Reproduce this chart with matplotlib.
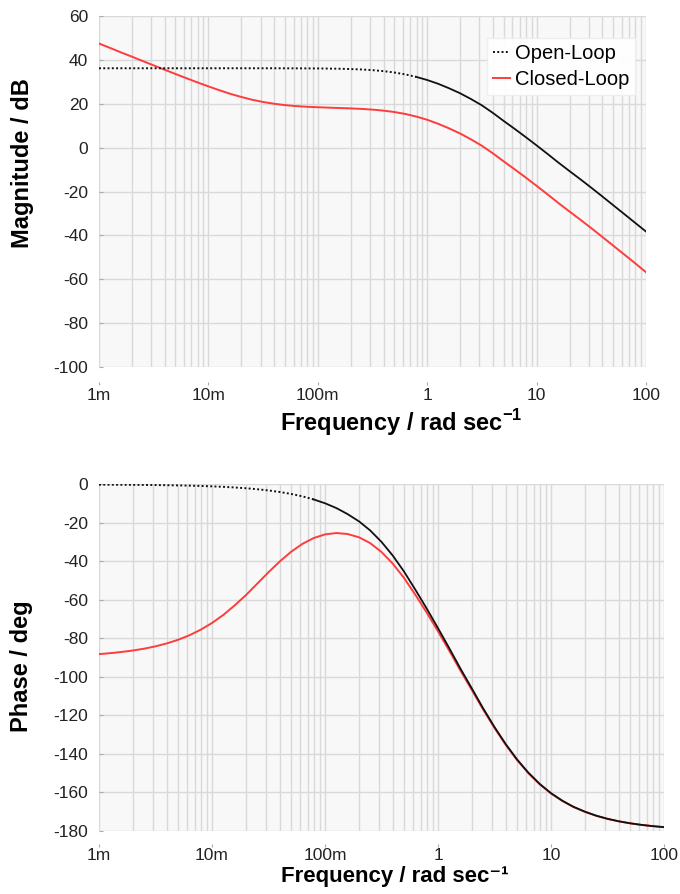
"""
Bode plot: open-loop vs closed-loop magnitude and phase.
"""
import matplotlib
matplotlib.use("Agg")
import matplotlib.pyplot as plt
from matplotlib.ticker import FixedLocator, FixedFormatter, LogLocator, NullFormatter

# ---------------------------------------------------------------------------
# Data (0.1-decade steps from 1m to 100 rad/s)
# ---------------------------------------------------------------------------
freq = [0.001, 0.00126, 0.00158, 0.002, 0.00251, 0.00316, 0.00398, 0.00501,
        0.00631, 0.00794,
        0.01, 0.0126, 0.0158, 0.02, 0.0251, 0.0316, 0.0398, 0.0501, 0.0631,
        0.0794,
        0.1, 0.126, 0.158, 0.2, 0.251, 0.316, 0.398, 0.501, 0.631, 0.794,
        1.0, 1.26, 1.58, 2.0, 2.51, 3.16, 3.98, 5.01, 6.31, 7.94,
        10, 12.6, 15.8, 20, 25.1, 31.6, 39.8, 50.1, 63.1, 79.4,
        100]

open_mag = [36.1, 36.1, 36.1, 36.1, 36.1, 36.1, 36.1, 36.1, 36.1, 36.1,
            36.1, 36.1, 36.1, 36.1, 36.1, 36.1, 36.1, 36.08, 36.06, 36.04,
            36.01, 35.95, 35.87, 35.74, 35.54, 35.24, 34.8, 34.17, 33.3, 32.17,
            30.75, 29.03, 27.02, 24.71, 22.11, 19.22, 15.8, 12.1, 8.5, 4.8,
            1.0, -2.9, -6.8, -10.7, -14.4, -18.25, -22.2, -26.2, -30.2, -34.2,
            -38.2]

closed_mag = [47.35, 45.36, 43.36, 41.37, 39.38, 37.4, 35.43, 33.48, 31.55, 29.66,
              27.84, 26.1, 24.48, 23.03, 21.78, 20.75, 19.95, 19.33, 18.89, 18.58,
              18.36, 18.17, 18.01, 17.83, 17.6, 17.28, 16.82, 16.18, 15.3, 14.12,
              12.65, 10.83, 8.77, 6.41, 3.76, 0.82, -2.6, -6.3, -9.9, -13.6,
              -17.4, -21.3, -25.2, -29.1, -32.8, -36.65, -40.6, -44.6, -48.6, -52.6,
              -56.7]

open_phase = [-0.1, -0.12, -0.15, -0.19, -0.25, -0.31, -0.39, -0.49, -0.62, -0.78,
              -0.98, -1.24, -1.56, -1.96, -2.47, -3.1, -3.91, -4.92, -6.18, -7.78,
              -9.77, -12.26, -15.36, -19.18, -23.88, -29.83, -36.97, -45.3, -54.73, -64.45,
              -74.66, -85.14, -95.68, -106.14, -116.32, -125.99, -134.91, -142.86, -149.74, -155.54,
              -160.36, -164.28, -167.45, -170.0, -172.04, -173.67, -174.97, -176.0, -176.82, -177.48,
              -178.0]

closed_phase = [-88.13, -87.63, -87.02, -86.25, -85.3, -84.09, -82.57, -80.69, -78.35, -75.46,
                -71.95, -67.77, -62.91, -57.43, -51.57, -45.62, -39.99, -34.97, -30.86, -27.84,
                -25.94, -25.23, -25.73, -27.45, -30.47, -35.07, -41.14, -48.61, -57.36, -66.54,
                -76.32, -86.46, -96.73, -106.97, -116.98, -126.52, -135.33, -143.19, -150.0, -155.75,
                -160.53, -164.41, -167.55, -170.08, -172.11, -173.72, -175.0, -176.03, -176.85, -177.5,
                -178.02]

xtick_vals   = [0.001, 0.01, 0.1, 1, 10, 100]
xtick_labels = ["1m", "10m", "100m", "1", "10", "100"]
mag_ticks    = [-100, -80, -60, -40, -20, 0, 20, 40, 60]
phase_ticks  = [-180, -160, -140, -120, -100, -80, -60, -40, -20, 0]

# open-loop trace renders as a dotted line where it is nearly flat
MAG_DOT_END   = 29
PHASE_DOT_END = 19

# ---------------------------------------------------------------------------
# Style
# ---------------------------------------------------------------------------
plt.rcParams["font.family"] = ["Liberation Sans", "DejaVu Sans"]
plt.rcParams["axes.unicode_minus"] = False
plt.rcParams["mathtext.fontset"] = "custom"
plt.rcParams["mathtext.rm"] = "Liberation Sans"
plt.rcParams["mathtext.bf"] = "Liberation Sans:bold"

RED   = "#ff3c3c"
BLACK = "#111111"
GRID  = "#d9d9d9"
FACE  = "#f8f8f8"
DOTS  = (0, (1.0, 1.2))
XLAB  = r"Frequency / rad sec$^{\mathbf{-1}}$"
XLAB_PLAIN = "Frequency / rad sec\u207b\u00b9"
LABEL_SIZE = 17


def style_axes(ax, yticks, xoffset, xpad):
    ax.set_xscale("log")
    ax.set_facecolor(FACE)
    ax.xaxis.set_major_locator(FixedLocator(xtick_vals))
    ax.xaxis.set_major_formatter(FixedFormatter(xtick_labels))
    ax.xaxis.set_minor_locator(LogLocator(base=10, subs=range(2, 10), numticks=20))
    ax.xaxis.set_minor_formatter(NullFormatter())
    ax.set_yticks(yticks)
    ax.grid(True, which="both", color=GRID, linewidth=1.0)
    ax.set_axisbelow(True)
    for side in ["top", "right", "left", "bottom"]:
        ax.spines[side].set_color("none")
    ax.spines["bottom"].set_position(("outward", xoffset))
    ax.tick_params(axis="x", which="major", direction="out", length=2.5,
                   color="#aaaaaa", labelsize=12.5, pad=xpad, labelcolor="#222222")
    ax.tick_params(axis="x", which="minor", length=0)
    ax.tick_params(axis="y", direction="in", length=3, color="#aaaaaa",
                   labelsize=12.5, pad=8, labelcolor="#222222")


fig = plt.figure(figsize=(6.8, 8.94), dpi=100)

# --- magnitude ---
ax1 = fig.add_axes([0.1456, 0.5891, 0.8044, 0.3933])
style_axes(ax1, mag_ticks, 10.8, 1.5)
ax1.plot(freq, closed_mag, color=RED, linewidth=1.4, zorder=3)
ax1.plot(freq[:MAG_DOT_END + 1], open_mag[:MAG_DOT_END + 1], color=BLACK,
         linewidth=1.4, linestyle=DOTS, zorder=4)
ax1.plot(freq[MAG_DOT_END:], open_mag[MAG_DOT_END:], color=BLACK,
         linewidth=1.3, zorder=4)
ax1.set_xlim(1e-3, 100)
ax1.set_ylim(-100, 60)
ax1.set_ylabel("Magnitude / dB", fontsize=LABEL_SIZE, fontweight="bold")
ax1.yaxis.set_label_coords(-0.118, 0.58)
ax1.set_xlabel(XLAB, fontsize=LABEL_SIZE, fontweight="bold")
ax1.xaxis.set_label_coords(0.552, -0.114)

open_handle = plt.Line2D([], [], color=BLACK, linewidth=1.4, linestyle=DOTS)
red_handle = plt.Line2D([], [], color=RED, linewidth=1.4)
ax1.legend([open_handle, red_handle], ["Open-Loop", "Closed-Loop"],
           loc="upper right", bbox_to_anchor=(0.98, 0.937),
           borderaxespad=0, fontsize=14.5, handlelength=0.8,
           handletextpad=0.25, labelspacing=0.35, borderpad=0.3,
           fancybox=False, framealpha=0.95, facecolor="white",
           edgecolor="#eeeeee")

# --- phase ---
ax2 = fig.add_axes([0.1456, 0.0705, 0.8309, 0.3876])
style_axes(ax2, phase_ticks, 9.5, 0.5)
ax2.plot(freq, closed_phase, color=RED, linewidth=1.4, zorder=3)
ax2.plot(freq[:PHASE_DOT_END + 1], open_phase[:PHASE_DOT_END + 1], color=BLACK,
         linewidth=1.4, linestyle=DOTS, zorder=4)
ax2.plot(freq[PHASE_DOT_END:], open_phase[PHASE_DOT_END:], color=BLACK,
         linewidth=1.3, zorder=4)
ax2.set_xlim(1e-3, 100)
ax2.set_ylim(-180, 0)
ax2.set_ylabel("Phase / deg", fontsize=LABEL_SIZE, fontweight="bold")
ax2.yaxis.set_label_coords(-0.116, 0.476)
ax2.set_xlabel(XLAB_PLAIN, fontsize=16, fontweight="bold")
ax2.xaxis.set_label_coords(0.524, -0.1)

fig.savefig("out.png", dpi=100)
